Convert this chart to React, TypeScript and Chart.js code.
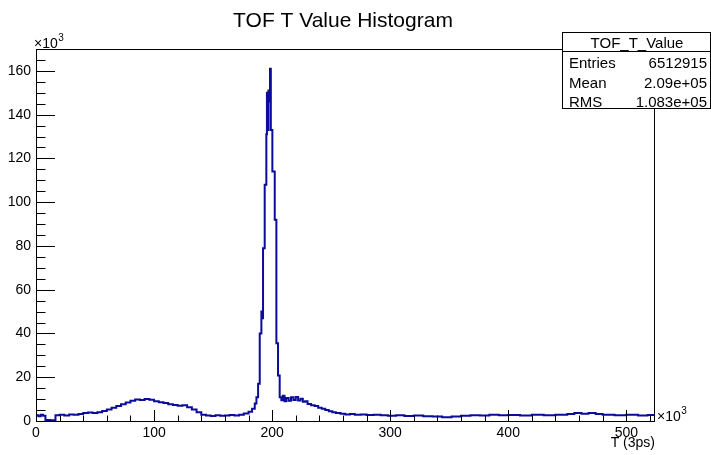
import React, { useEffect, useRef } from "react";
import { Chart, registerables } from "chart.js";

Chart.register(...registerables);

// ---- data (T in units of 10^3, counts in units of 10^3) ----
const TITLE = "TOF T Value Histogram";
const X_TITLE = "T (3ps)";
const X_TICKS = [0, 100, 200, 300, 400, 500];
const Y_TICKS = [0, 20, 40, 60, 80, 100, 120, 140, 160];
const X_MIN = 0;
const X_MAX = 524.288;
const Y_MAX = 170;

const BIN_STARTS = [
  0, 2, 4, 6, 8, 12, 16.5, 20, 24, 28, 32, 36, 40, 44, 48, 52, 56, 60, 64, 68,
  72, 76, 80, 84, 88, 92, 96, 100, 104, 108, 112, 116, 120, 124, 128, 132, 136,
  140, 144, 148, 152, 156, 160, 164, 168, 172, 176, 180, 183, 185.3, 186.7,
  188.1, 189.5, 190.9, 191.6, 192.3, 193.7, 195.1, 195.6, 196.2, 196.9, 197.6,
  198.2, 198.9, 200.2, 202.2, 203.6, 205.0, 206.4, 207.8, 209, 210.5, 212, 214,
  216, 218, 220, 222, 224, 226, 228, 230, 233, 236, 239, 242, 245, 248, 251,
  254, 258, 262, 266, 270, 275, 280, 286, 292, 298, 305, 312, 320, 328, 336,
  344, 352, 360, 368, 376, 384, 392, 400, 410, 420, 430, 440, 450, 456, 462,
  468, 474, 480, 490, 500, 510, 518,
];
const COUNTS = [
  2.6, 2.2, 2.8, 2.4, 0.4, 0.3, 2.6, 2.8, 2.5, 3.0, 2.8, 3.2, 3.6, 3.9, 3.7,
  4.0, 4.6, 5.2, 6.0, 6.8, 7.6, 8.4, 9.2, 9.8, 9.6, 10.1, 9.7, 9.0, 8.6, 8.2,
  7.6, 7.3, 7.0, 7.2, 6.3, 5.2, 4.0, 2.8, 2.5, 2.3, 2.6, 2.4, 2.5, 2.7, 2.5,
  2.8, 3.4, 4.2, 5.6, 8.0, 10.8, 17, 40, 50, 47, 79, 108, 131, 150, 133, 151,
  146, 161, 133, 114, 92, 35.5, 20.8, 10.9, 9.5, 11.5, 9.0, 10.5, 9.2, 10.8,
  9.6, 11.0, 9.4, 10.2, 8.8, 9.0, 7.8, 7.2, 6.8, 6.0, 5.6, 5.0, 4.4, 4.0, 3.6,
  3.3, 3.0, 3.2, 2.8, 3.0, 2.7, 2.9, 2.6, 2.4, 2.6, 2.3, 2.5, 2.2, 2.0, 1.7,
  2.1, 2.4, 2.6, 2.5, 2.8, 2.6, 2.7, 2.5, 2.8, 2.6, 2.9, 3.2, 3.6, 3.3, 3.7,
  3.2, 2.8, 2.6, 2.9, 2.5, 2.7,
];

const STATS_NAME = "TOF_T_Value";
const STATS_LABELS = ["Entries", "Mean", "RMS"];
const STATS_VALUES = ["6512915", "2.09e+05", "1.083e+05"];

const FONT = '"Liberation Sans", Arial, Helvetica, sans-serif';
const LINE_COLOR = "#0b0b9c";

function drawMultiplier(ctx: CanvasRenderingContext2D, x: number, y: number) {
  ctx.textAlign = "left";
  ctx.font = `14px ${FONT}`;
  ctx.fillText("\u00d710", x, y);
  const w = ctx.measureText("\u00d710").width;
  ctx.font = `10px ${FONT}`;
  ctx.fillText("3", x + w + 0.5, y - 7);
}

const rootPlugin = {
  id: "rootDecor",
  afterDraw(chart: any) {
    const { ctx, chartArea } = chart;
    const { left, right, top, bottom } = chartArea;
    const xs = chart.scales.x;
    const ys = chart.scales.y;
    ctx.save();
    ctx.strokeStyle = "#000";
    ctx.lineWidth = 1;
    // frame
    ctx.strokeRect(Math.round(left) + 0.5, Math.round(top) + 0.5, Math.round(right - left) - 1, Math.round(bottom - top));

    // y ticks (inward)
    ctx.beginPath();
    for (let v = 0; v <= Y_MAX + 1e-9; v += 5) {
      const y = Math.round(ys.getPixelForValue(v)) + 0.5;
      const major = Y_TICKS.includes(v);
      const len = major ? 19 : 9.5;
      ctx.moveTo(left, y);
      ctx.lineTo(left + len, y);
    }
    // x ticks (inward)
    for (let v = 0; v <= X_MAX + 1e-9; v += 20) {
      const x = Math.round(xs.getPixelForValue(v)) + 0.5;
      const major = X_TICKS.includes(v);
      const len = major ? 11 : 5.5;
      ctx.moveTo(x, bottom);
      ctx.lineTo(x, bottom - len);
    }
    ctx.stroke();

    ctx.fillStyle = "#000";
    // title
    ctx.font = `21px ${FONT}`;
    ctx.textAlign = "center";
    ctx.textBaseline = "alphabetic";
    ctx.fillText(TITLE, 343, 27);

    // multipliers
    drawMultiplier(ctx, 34, 48);
    drawMultiplier(ctx, 657, 421);

    // x title
    ctx.font = `14px ${FONT}`;
    ctx.textAlign = "right";
    ctx.fillText(X_TITLE, right, 447);

    // stats box
    const bx = 562.5, by = 32.5, bw = 148, bh = 76;
    ctx.fillStyle = "#fff";
    ctx.fillRect(bx, by, bw, bh);
    ctx.strokeRect(bx, by, bw, bh);
    ctx.beginPath();
    ctx.moveTo(bx, 51.5);
    ctx.lineTo(bx + bw, 51.5);
    ctx.stroke();
    ctx.fillStyle = "#000";
    ctx.font = `15px ${FONT}`;
    ctx.textAlign = "center";
    ctx.fillText(STATS_NAME, 637, 48);
    const rowsY = [68, 88, 107];
    STATS_LABELS.forEach((lab, i) => {
      ctx.textAlign = "left";
      ctx.fillText(lab, 569, rowsY[i]);
      ctx.textAlign = "right";
      ctx.fillText(STATS_VALUES[i], 707, rowsY[i]);
    });
    ctx.restore();
  },
};

export default function App() {
  const canvasRef = useRef<HTMLCanvasElement | null>(null);

  useEffect(() => {
    const canvas = canvasRef.current;
    if (!canvas) return;
    const points = BIN_STARTS.map((x, i) => ({ x, y: COUNTS[i] }));
    points.push({ x: X_MAX, y: COUNTS[COUNTS.length - 1] });

    const chart = new Chart(canvas, {
      type: "line",
      data: {
        datasets: [
          {
            data: points,
            borderColor: LINE_COLOR,
            borderWidth: 2,
            pointRadius: 0,
            fill: false,
            stepped: "before",
            tension: 0,
          },
        ],
      },
      options: {
        responsive: false,
        animation: false,
        devicePixelRatio: 1,
        parsing: false as any,
        layout: { padding: { top: 49, right: 56, left: 0, bottom: 0 } },
        plugins: {
          legend: { display: false },
          tooltip: { enabled: false },
          title: { display: false },
        },
        scales: {
          x: {
            type: "linear",
            min: X_MIN,
            max: X_MAX,
            afterBuildTicks: (s: any) => {
              s.ticks = X_TICKS.map((v) => ({ value: v }));
            },
            afterFit: (s: any) => {
              s.height = 34;
            },
            ticks: {
              font: { family: FONT, size: 14 },
              color: "#000",
              padding: 4,
              maxRotation: 0,
              autoSkip: false,
              callback: (v: any) => String(v),
            },
            grid: { display: false, drawTicks: false },
            border: { display: false },
          },
          y: {
            type: "linear",
            min: 0,
            max: Y_MAX,
            afterBuildTicks: (s: any) => {
              s.ticks = Y_TICKS.map((v) => ({ value: v }));
            },
            afterFit: (s: any) => {
              s.width = 36;
            },
            ticks: {
              font: { family: FONT, size: 14 },
              color: "#000",
              padding: 5,
              autoSkip: false,
              callback: (v: any) => String(v),
            },
            grid: { display: false, drawTicks: false },
            border: { display: false },
          },
        },
      },
      plugins: [rootPlugin],
    });
    return () => chart.destroy();
  }, []);

  return (
    <div style={{ position: "absolute", left: 0, top: 0, width: 711, height: 455, background: "#fff" }}>
      <canvas ref={canvasRef} width={711} height={455} style={{ display: "block" }} />
    </div>
  );
}
